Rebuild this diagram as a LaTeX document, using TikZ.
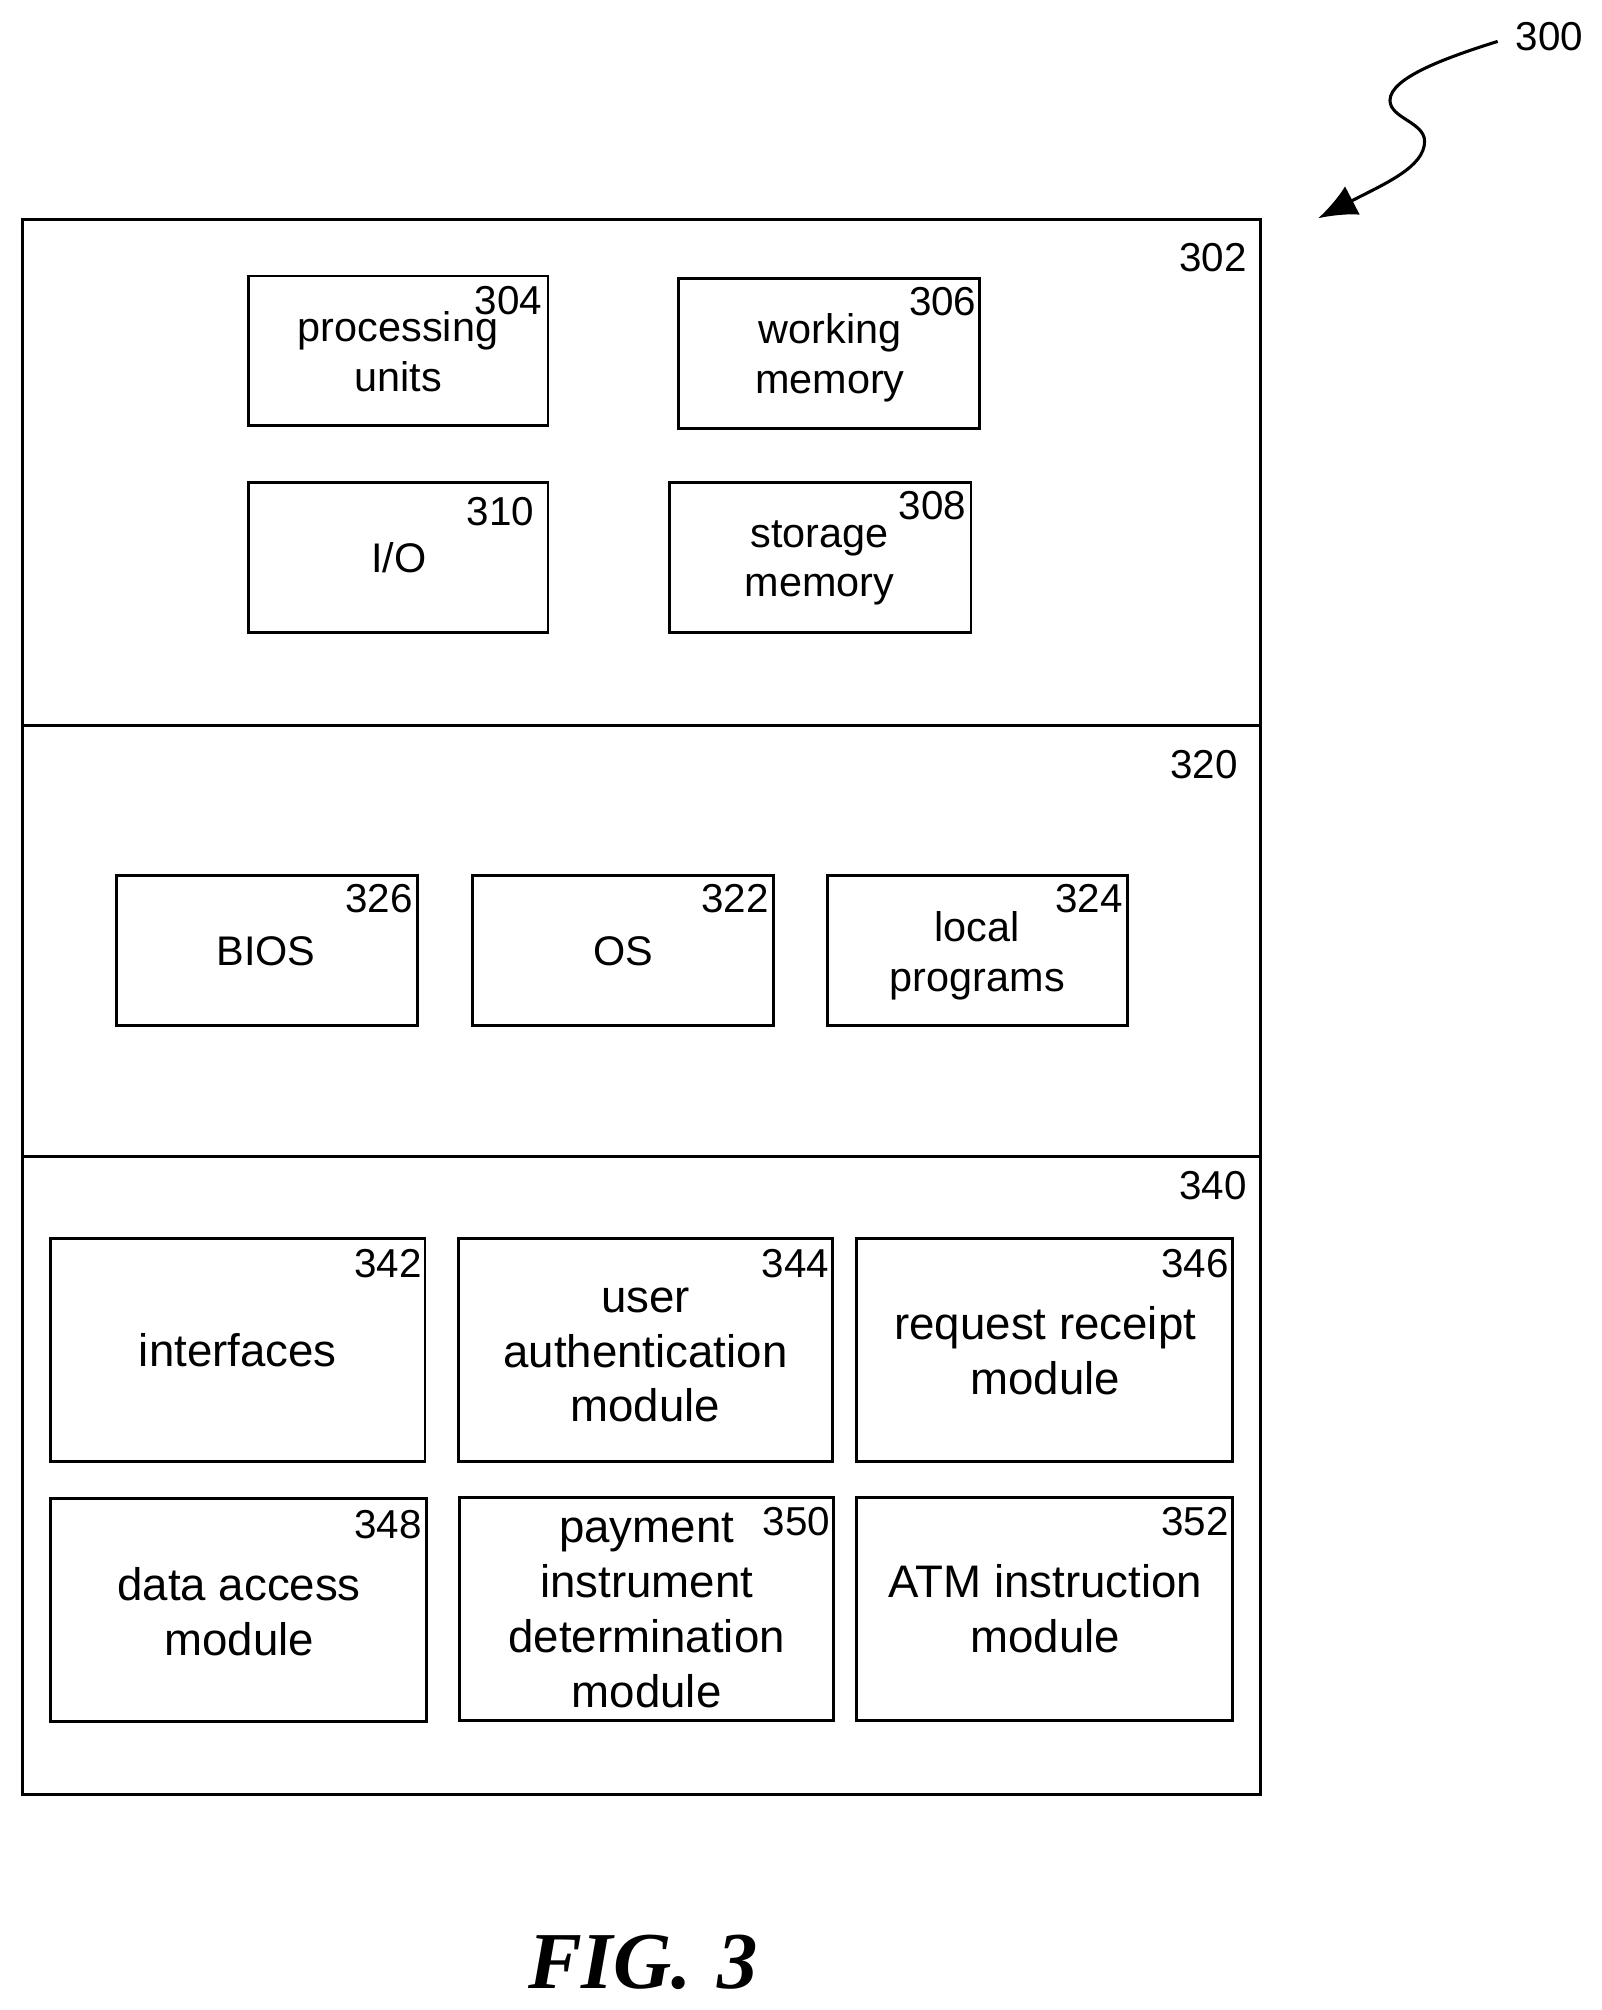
\documentclass[tikz,border=0pt]{standalone}
\usepackage{fontspec}
\setmainfont{Liberation Sans}
\newfontfamily\figfont{Liberation Serif}
\usetikzlibrary{arrows.meta}
\newcommand{\rbox}[6][modbox]{%
  \pgfmathsetmacro{\rw}{#5-#3}\pgfmathsetmacro{\rh}{#6-#4}%
  \node[#1,minimum width=\rw pt,minimum height=\rh pt] (#2) at ({(#3+#5)/2},{(#4+#6)/2}) {};}
\tikzset{
  secbox/.style={draw=black,line width=2.2pt,inner sep=0pt,outer sep=0pt},
  modbox/.style={draw=black,line width=2.2pt,inner sep=0pt,outer sep=0pt},
  lbl/.style={font=\fontsize{31.5}{38}\selectfont,inner sep=0pt,anchor=center},
  txts/.style={font=\fontsize{32.3}{38.8}\selectfont,inner sep=0pt,align=center,anchor=center},
  txtb/.style={font=\fontsize{35.6}{42.8}\selectfont,inner sep=0pt,align=center,anchor=center},
  figl/.style={font=\figfont\bfseries\itshape\fontsize{63}{70}\selectfont,inner sep=0pt,anchor=center},
  leader/.style={line width=2.4pt,-{Latex[length=30pt,width=25pt]}}
}
\begin{document}
\begin{tikzpicture}[x=1pt,y=-1pt]
\useasboundingbox[fill=white] (0,0) rectangle (1250,1568.4);
\begin{scope}[xshift=0.6pt,yshift=-0.3pt]
\rbox[secbox]{s302}{17}{171}{983}{566}
\rbox[secbox]{s320}{17}{566}{983}{902}
\rbox[secbox]{s340}{17}{902}{983}{1400}
\rbox{b304}{193}{215}{427}{332}
\rbox{b306}{529}{217}{764}{334}
\rbox{b310}{193}{376}{427}{493}
\rbox{b308}{522}{376}{757}{493}
\rbox{b326}{90}{683}{325}{800}
\rbox{b322}{368}{683}{603}{800}
\rbox{b324}{645}{683}{879}{800}
\rbox{b342}{39}{966}{331}{1140}
\rbox{b344}{357}{966}{649}{1140}
\rbox{b346}{668}{966}{961}{1140}
\rbox{b348}{39}{1169}{332}{1343}
\rbox{b350}{358}{1168}{650}{1342}
\rbox{b352}{668}{1168}{961}{1342}
% texts
\node[txts] (t304) at (310,274) {processing\\units};
\node[txts] (t306) at (647,279) {working\\memory};
\node[txts] (t310) at (310.5,435) {I/O};
\node[txts] (t308) at (639,439) {storage\\memory};
\node[txts] (t326) at (207,742) {BIOS};
\node[txts] (t322) at (485.5,742) {OS};
\node[txts] (t324) at (762,745.5) {local\\programs};
\node[txtb] (t342) at (185,1053) {interfaces};
\node[txtb] (t344) at (503,1057) {user\\authentication\\module};
\node[txtb] (t346) at (815,1053.5) {request receipt\\module};
\node[txtb] (t348) at (186,1257) {data access\\module};
\node[txtb] (t350) at (504,1256.5) {payment\\instrument\\determination\\module};
\node[txtb] (t352) at (815,1255) {ATM instruction\\module};
% numbers
\node[lbl] (n300) at (1208.5,28) {300};
\node[lbl] (n302) at (946,201) {302};
\node[lbl] (n304) at (396,234) {304};
\node[lbl] (n306) at (735,235) {306};
\node[lbl] (n310) at (390,399) {310};
\node[lbl] (n308) at (727,394) {308};
\node[lbl] (n320) at (939,596) {320};
\node[lbl] (n326) at (295,701) {326};
\node[lbl] (n322) at (573,701) {322};
\node[lbl] (n324) at (849,701) {324};
\node[lbl] (n340) at (946,925) {340};
\node[lbl] (n342) at (302,986) {342};
\node[lbl] (n344) at (620,986) {344};
\node[lbl] (n346) at (932,986) {346};
\node[lbl] (n348) at (302,1189) {348};
\node[lbl] (n350) at (621,1187) {350};
\node[lbl] (n352) at (932,1187) {352};
\node[figl] (fig) at (501,1531) {FIG.\hspace{4pt} 3};
% leader
\coordinate (lstart) at (1168,32);
\coordinate (ltip) at (1028,170);
\draw[leader] (lstart) .. controls (1130,44) and (1084,60) .. (1084,78)
  .. controls (1084,92) and (1111,95) .. (1111,110)
  .. controls (1111,130) and (1080,143) .. (ltip);
\end{scope}
\end{tikzpicture}
\end{document}
